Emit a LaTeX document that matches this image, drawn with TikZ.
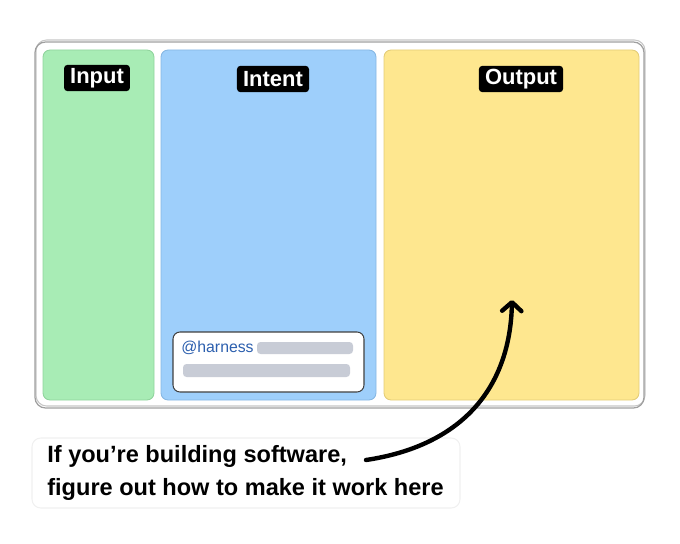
\documentclass[tikz,border=0pt]{standalone}
\usepackage{fontspec}
\setmainfont{Liberation Sans}
\usetikzlibrary{arrows.meta}

\definecolor{ingreen}{HTML}{A8ECB5}
\definecolor{ingreenline}{HTML}{90D49D}
\definecolor{intblue}{HTML}{9ECFFB}
\definecolor{intblueline}{HTML}{86B7E3}
\definecolor{outyellow}{HTML}{FEE78F}
\definecolor{outyellowline}{HTML}{E4CD78}
\definecolor{handblue}{HTML}{2C5FAE}
\definecolor{barcol}{HTML}{C8CCD6}

\tikzset{
  panel/.style={rounded corners=4pt, line width=0.5pt},
  tag/.style={fill=black, text=white, rounded corners=2pt, inner xsep=3.5pt,
    inner ysep=0pt, minimum height=15pt, font=\bfseries\fontsize{12.5}{14}\selectfont},
  bar/.style={fill=barcol, rounded corners=2pt},
  pointer/.style={line width=2.5pt, line cap=round,
    -{Straight Barb[length=5pt, width=11pt, round]}}
}

\begin{document}
\begin{tikzpicture}[x=0.02cm, y=-0.02cm]

    \useasboundingbox (0,0) rectangle (680,544);

    \draw [gray!45, line width=0.6pt, rounded corners=6pt] (36,40) rectangle (645,406);
    \draw [gray!75, line width=0.7pt, rounded corners=6pt] (35,42) rectangle (644,408);

    \draw [panel, fill=ingreen, draw=ingreenline] (43,50) rectangle (154,400);
    \draw [panel, fill=intblue, draw=intblueline] (161,50) rectangle (376,400);
    \draw [panel, fill=outyellow, draw=outyellowline] (384,50) rectangle (639,400);

    \node [tag] (input) at (97,78) {Input};
    \node [tag] (intent) at (273,79) {Intent};
    \node [tag] (output) at (521,79) {Output};

    \draw [fill=white, draw=black!75, line width=0.6pt, rounded corners=4pt] (173,332) rectangle (364,392);
    \node [anchor=west, inner sep=0pt, text=handblue, font=\fontsize{9}{10}\selectfont] (harness) at (181,348) {@harness};
    \fill [bar] (257,342) rectangle (353,354);
    \fill [bar] (183,364) rectangle (350,377);

    \draw [fill=white, draw=black!6, line width=0.6pt, rounded corners=5pt] (32,438) rectangle (460,508);
    \node [anchor=west, align=left, inner sep=0pt, font=\bfseries\fontsize{13.4}{18.5}\selectfont] (note) at (47,473)
      {If you’re building software,\\figure out how to make it work here};

    \coordinate (tail) at (366,460);
    \coordinate (tip) at (512,300);
    \draw [pointer] (tail) .. controls (460,446) and (510,390) .. (tip);

  \end{tikzpicture}
\end{document}
